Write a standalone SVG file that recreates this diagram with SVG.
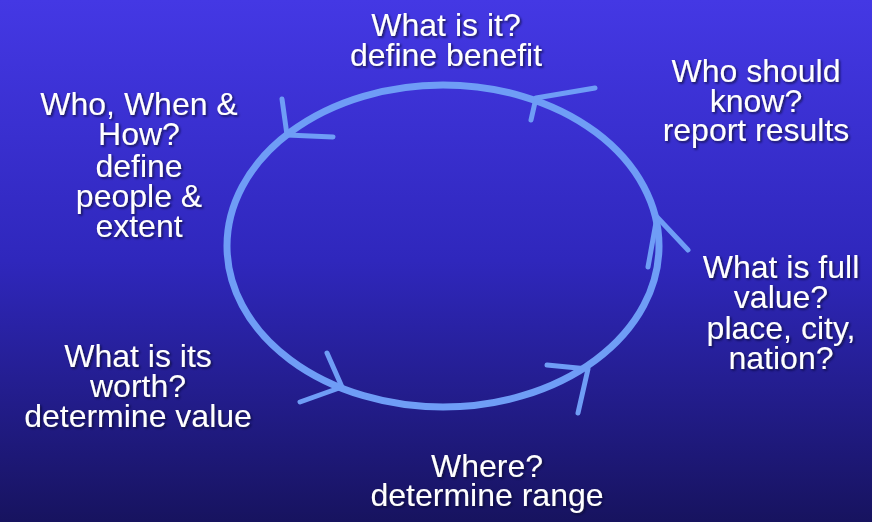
<svg xmlns="http://www.w3.org/2000/svg" width="872" height="522" viewBox="0 0 872 522">
<defs>
<linearGradient id="bg" x1="0" y1="0" x2="0" y2="1">
<stop offset="0" stop-color="#4438e4"/>
<stop offset="0.5" stop-color="#2f27bc"/>
<stop offset="1" stop-color="#17135f"/>
</linearGradient>
<filter id="sh" x="-10%" y="-10%" width="120%" height="130%">
<feDropShadow dx="1.5" dy="1.5" stdDeviation="1" flood-color="#0a0830" flood-opacity="0.8"/>
</filter>
</defs>
<style>
.lbl{font-family:"Liberation Sans",Arial,sans-serif;font-size:32px;fill:#ffffff;text-anchor:middle;filter:url(#sh)}
.cyc{fill:none;stroke:#6f9df6;stroke-width:7}
.arr{fill:none;stroke:#6f9df6;stroke-width:5;stroke-linecap:round;stroke-linejoin:round}
</style>
<rect x="0" y="0" width="872" height="522" fill="url(#bg)"/>
<g id="connectors">
<ellipse class="cyc" cx="443" cy="246" rx="216" ry="161"/>
<polyline class="arr" points="595,88 536,98 531,120"/>
<polyline class="arr" points="282,99 287,135 333,137"/>
<polyline class="arr" points="648,267 657,217 688,250"/>
<polyline class="arr" points="327,353 342,387 300,402"/>
<polyline class="arr" points="547,365 588,369 578,413"/>
</g>
<g id="n-what-is-it">
<text class="lbl"><tspan x="446" y="36">What is it?</tspan><tspan x="446" y="66">define benefit</tspan></text>
</g>
<g id="n-who-should-know">
<text class="lbl"><tspan x="756" y="82">Who should</tspan><tspan x="756" y="112">know?</tspan><tspan x="756" y="141">report results</tspan></text>
</g>
<g id="n-full-value">
<text class="lbl"><tspan x="781" y="278">What is full</tspan><tspan x="781" y="308">value?</tspan><tspan x="781" y="339">place, city,</tspan><tspan x="781" y="369">nation?</tspan></text>
</g>
<g id="n-where">
<text class="lbl"><tspan x="487" y="477">Where?</tspan><tspan x="487" y="506">determine range</tspan></text>
</g>
<g id="n-worth">
<text class="lbl"><tspan x="138" y="367">What is its</tspan><tspan x="138" y="397">worth?</tspan><tspan x="138" y="427">determine value</tspan></text>
</g>
<g id="n-who-when-how">
<text class="lbl"><tspan x="139" y="115">Who, When &amp;</tspan><tspan x="139" y="145">How?</tspan><tspan x="139" y="177">define</tspan><tspan x="139" y="207">people &amp;</tspan><tspan x="139" y="237">extent</tspan></text>
</g>
</svg>
